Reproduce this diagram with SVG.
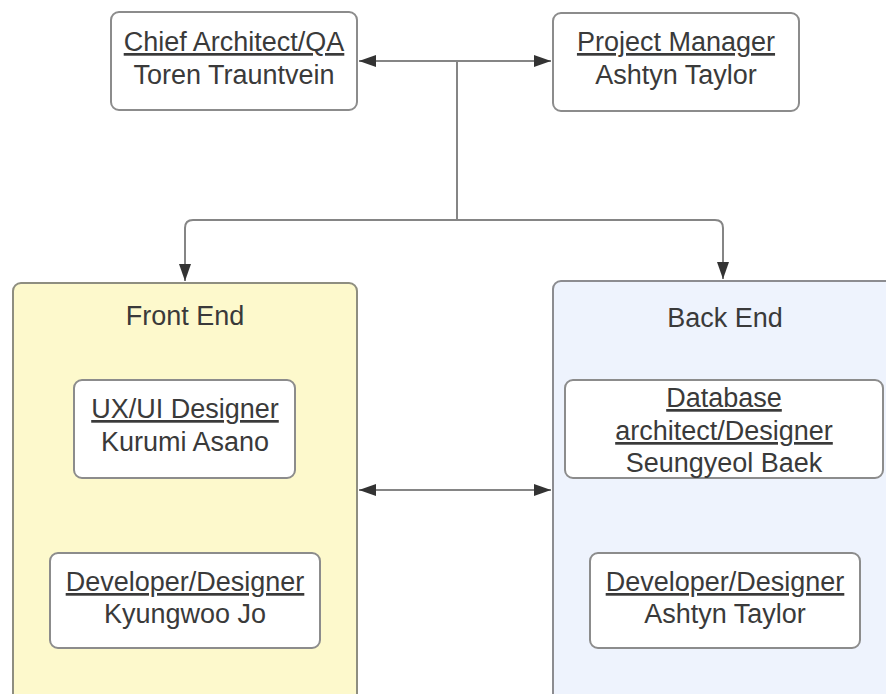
<svg xmlns="http://www.w3.org/2000/svg" width="886" height="694" viewBox="0 0 886 694">
<defs>
<style>
.box{fill:#ffffff;stroke:#8c8c8c;stroke-width:2}
.fe{fill:#fdf9cc;stroke:#8e8e80;stroke-width:2}
.be{fill:#eef3fd;stroke:#8c8c90;stroke-width:2}
.t{font-family:"Liberation Sans",Arial,sans-serif;font-size:27px;fill:#3a3a3a;text-anchor:middle}
.u{text-decoration:underline}
.c{fill:none;stroke:#858585;stroke-width:2}
</style>
<marker id="ah" viewBox="0 0 17 12" refX="17" refY="6" markerWidth="17" markerHeight="12" markerUnits="userSpaceOnUse" orient="auto-start-reverse">
<path d="M0,0 L17,6 L0,12 Z" fill="#333333"/>
</marker>
</defs>
<rect width="886" height="694" fill="#ffffff"/>
<g id="front-end">
<rect class="fe" x="13" y="283" width="344" height="420" rx="8"/>
<text class="t" x="185" y="325">Front End</text>
</g>
<g id="back-end">
<rect class="be" x="553" y="281" width="350" height="422" rx="8"/>
<text class="t" x="725" y="327">Back End</text>
</g>
<g id="chief-architect">
<rect class="box" x="111" y="12" width="246" height="98" rx="8"/>
<text class="t u" x="234" y="51">Chief Architect/QA</text>
<text class="t" x="234" y="84">Toren Trauntvein</text>
</g>
<g id="project-manager">
<rect class="box" x="553" y="13" width="246" height="98" rx="8"/>
<text class="t u" x="676" y="51">Project Manager</text>
<text class="t" x="676" y="84">Ashtyn Taylor</text>
</g>
<g id="ux-ui-designer">
<rect class="box" x="74" y="380" width="221" height="98" rx="8"/>
<text class="t u" x="185" y="418">UX/UI Designer</text>
<text class="t" x="185" y="451">Kurumi Asano</text>
</g>
<g id="fe-developer">
<rect class="box" x="50" y="553" width="270" height="95" rx="8"/>
<text class="t u" x="185" y="591">Developer/Designer</text>
<text class="t" x="185" y="623">Kyungwoo Jo</text>
</g>
<g id="database-architect">
<rect class="box" x="565" y="380" width="318" height="98" rx="8"/>
<text class="t u" x="724" y="407">Database</text>
<text class="t u" x="724" y="440">architect/Designer</text>
<text class="t" x="724" y="472">Seungyeol Baek</text>
</g>
<g id="be-developer">
<rect class="box" x="590" y="553" width="270" height="95" rx="8"/>
<text class="t u" x="725" y="591">Developer/Designer</text>
<text class="t" x="725" y="623">Ashtyn Taylor</text>
</g>
<g id="connectors">
<path class="c" d="M457,61 L359,61" marker-end="url(#ah)"/>
<path class="c" d="M457,61 L551,61" marker-end="url(#ah)"/>
<path class="c" d="M457,61 L457,220"/>
<path class="c" d="M457,220 L193,220 Q185,220 185,228 L185,281" marker-end="url(#ah)"/>
<path class="c" d="M457,220 L715,220 Q723,220 723,228 L723,279" marker-end="url(#ah)"/>
<path class="c" d="M359,490 L551,490" marker-start="url(#ah)" marker-end="url(#ah)"/>
</g>
</svg>
